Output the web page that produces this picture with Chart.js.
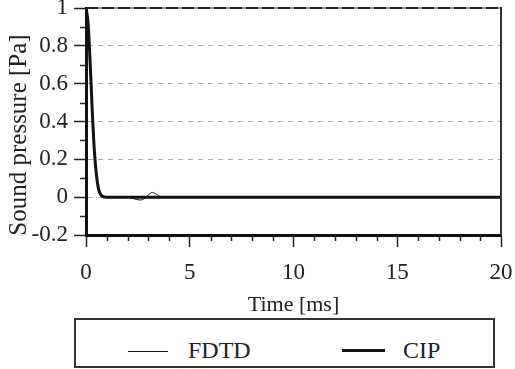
<!DOCTYPE html>
<html>
<head>
<meta charset="utf-8">
<script src="https://cdn.jsdelivr.net/npm/chart.js@4"></script>
<style>
  body { margin: 0; background: #fff; }
  #wrap { position: relative; width: 515px; height: 318px; }
  #legenda {
    position: absolute; left: 74px; top: 318px; width: 421px; height: 50px;
    box-sizing: border-box; border: 2px solid #333;
    font-family: "Liberation Serif", "Times New Roman", serif; font-size: 24px; color: #222;
  }
  #legenda .linha { position: absolute; background: #111; }
  #legenda .rotulo { position: absolute; line-height: 24px; }
</style>
</head>
<body>
<div id="wrap"><canvas id="grafico"></canvas></div>
<div id="legenda"></div>
<script>
// Dados
const tempoMs = [0, 0.1, 0.2, 0.3, 0.4, 0.5, 0.6, 0.7, 0.8, 1.0, 1.5, 2.0, 2.3, 2.6, 2.85, 3.0, 3.2, 3.4, 3.6, 3.8, 4.5, 20];
const cip     = [1, 0.92, 0.71, 0.46, 0.25, 0.12, 0.045, 0.015, 0.004, 0, 0, 0, 0, 0, 0, 0, 0, 0, 0, 0, 0, 0];
const fdtd    = [1, 0.92, 0.71, 0.46, 0.25, 0.12, 0.045, 0.015, 0.004, 0, 0, 0, -0.008, -0.015, -0.005, 0.012, 0.025, 0.015, 0.002, 0, 0, 0];
const nomesSeries = ['FDTD', 'CIP'];
const ticksX = [0, 5, 10, 15, 20];
const ticksY = [-0.2, 0, 0.2, 0.4, 0.6, 0.8, 1];

const fonte = '"Liberation Serif", "Times New Roman", serif';

function pontos(valores) {
    return tempoMs.map((t, i) => ({ x: t, y: valores[i] }));
}

// Ticks menores, borda de cima/direita e título do eixo y
const extras = {
    id: 'extras',
    afterDraw(chart) {
        const { ctx, chartArea: a, scales: { x, y } } = chart;
        ctx.save();
        ctx.strokeStyle = '#222';
        ctx.lineWidth = 1.5;
        for (let v = -0.1; v < 1; v += 0.2) {
            const py = Math.round(y.getPixelForValue(v)) + 0.5;
            ctx.beginPath(); ctx.moveTo(a.left - 6, py); ctx.lineTo(a.left, py); ctx.stroke();
        }
        for (let v = 1; v < 20; v++) {
            if (v % 5 === 0) continue;
            const px = Math.round(x.getPixelForValue(v)) + 0.5;
            ctx.beginPath(); ctx.moveTo(px, a.bottom); ctx.lineTo(px, a.bottom + 6); ctx.stroke();
        }
        // borda superior: cinza com traços pretos
        ctx.lineWidth = 2;
        ctx.strokeStyle = '#999';
        ctx.beginPath(); ctx.moveTo(a.left, a.top); ctx.lineTo(a.right, a.top); ctx.stroke();
        ctx.strokeStyle = '#222';
        ctx.setLineDash([12, 4]);
        ctx.beginPath(); ctx.moveTo(a.left, a.top); ctx.lineTo(a.right, a.top); ctx.stroke();
        ctx.setLineDash([]);
        // borda direita
        ctx.strokeStyle = '#333';
        ctx.beginPath(); ctx.moveTo(a.right, a.top - 1); ctx.lineTo(a.right, a.bottom); ctx.stroke();
        // título do eixo y
        ctx.fillStyle = '#222';
        ctx.font = '25px ' + fonte;
        ctx.textAlign = 'center';
        ctx.textBaseline = 'middle';
        ctx.translate(19, 135);
        ctx.rotate(-Math.PI / 2);
        ctx.fillText('Sound pressure [Pa]', 0, 0);
        ctx.restore();
    }
};

const grafico = new Chart(document.getElementById('grafico'), {
    type: 'line',
    data: {
        datasets: [
            { label: nomesSeries[1], data: pontos(cip), borderColor: '#111', borderWidth: 3, pointRadius: 0, cubicInterpolationMode: 'monotone' },
            { label: nomesSeries[0], data: pontos(fdtd), borderColor: '#111', borderWidth: 1, pointRadius: 0, cubicInterpolationMode: 'monotone' }
        ]
    },
    options: {
        responsive: true,
        maintainAspectRatio: false,
        animation: false,
        layout: { padding: { left: 0, right: 14, top: 8, bottom: 0 } },
        plugins: { legend: { display: false }, tooltip: { enabled: false } },
        scales: {
            x: {
                type: 'linear',
                min: 0, max: 20,
                afterBuildTicks: s => { s.ticks = ticksX.map(v => ({ value: v })); },
                afterFit: s => { s.height = 83; s.paddingLeft = 0; s.paddingRight = 0; },
                ticks: { color: '#222', font: { family: fonte, size: 23 }, padding: 12, maxRotation: 0 },
                grid: { drawOnChartArea: false, tickLength: 12, tickColor: '#222', tickWidth: 1.5 },
                border: { color: '#111', width: 3 },
                title: { display: true, text: 'Time [ms]', color: '#222', font: { family: fonte, size: 22, lineHeight: 1 }, padding: { top: 0, bottom: 2 } }
            },
            y: {
                min: -0.2, max: 1,
                afterBuildTicks: s => { s.ticks = ticksY.map(v => ({ value: v })); },
                afterFit: s => { s.width = 86; s.paddingTop = 0; s.paddingBottom = 0; },
                ticks: { color: '#222', font: { family: fonte, size: 23 }, padding: 6, callback: v => String(Math.round(v * 10) / 10) },
                grid: {
                    color: ctx => (ctx.tick && ctx.tick.value === 1) ? 'rgba(0,0,0,0)' : '#aaa',
                    tickColor: '#222', tickWidth: 1.5, tickLength: 12
                },
                border: { color: '#111', width: 3, dash: [5, 5] }
            }
        }
    },
    plugins: [extras]
});

// Legenda em HTML com a caixa em volta
const legenda = document.getElementById('legenda');
const itens = [
    { nome: nomesSeries[0], linha: [52, 31, 40, 1], texto: [112, 18] },
    { nome: nomesSeries[1], linha: [266, 29, 43, 3], texto: [327, 18] }
];
itens.forEach(it => {
    const l = document.createElement('div');
    l.className = 'linha';
    l.style.left = it.linha[0] + 'px'; l.style.top = it.linha[1] + 'px';
    l.style.width = it.linha[2] + 'px'; l.style.height = it.linha[3] + 'px';
    legenda.appendChild(l);
    const t = document.createElement('div');
    t.className = 'rotulo';
    t.style.left = it.texto[0] + 'px'; t.style.top = it.texto[1] + 'px';
    t.textContent = it.nome;
    legenda.appendChild(t);
});
</script>
</body>
</html>
